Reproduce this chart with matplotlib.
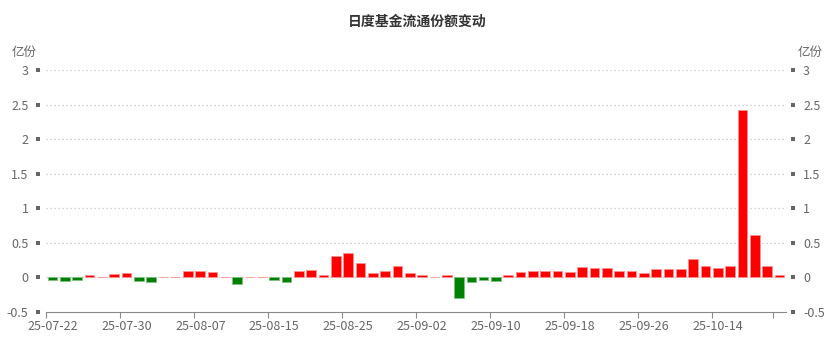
import matplotlib
matplotlib.use("Agg")
import matplotlib.pyplot as plt
import numpy as np

plt.rcParams['font.family'] = ['Noto Sans CJK SC', 'DejaVu Sans']

dates = ["25-07-22", "25-07-23", "25-07-24", "25-07-25", "25-07-28", "25-07-29",
         "25-07-30", "25-07-31", "25-08-01", "25-08-04", "25-08-05", "25-08-06",
         "25-08-07", "25-08-08", "25-08-11", "25-08-12", "25-08-13", "25-08-14",
         "25-08-15", "25-08-18", "25-08-19", "25-08-20", "25-08-21", "25-08-22",
         "25-08-25", "25-08-26", "25-08-27", "25-08-28", "25-08-29", "25-09-01",
         "25-09-02", "25-09-03", "25-09-04", "25-09-05", "25-09-08", "25-09-09",
         "25-09-10", "25-09-11", "25-09-12", "25-09-15", "25-09-16", "25-09-17",
         "25-09-18", "25-09-19", "25-09-22", "25-09-23", "25-09-24", "25-09-25",
         "25-09-26", "25-09-29", "25-09-30", "25-10-09", "25-10-10", "25-10-13",
         "25-10-14", "25-10-15", "25-10-16", "25-10-17", "25-10-20", "25-10-21"]

changes = [-0.04, -0.05, -0.04, 0.03, 0.005, 0.05, 0.07, -0.05, -0.07, 0.0,
           0.005, 0.09, 0.10, 0.08, 0.005, -0.09, 0.0, 0.0, -0.03, -0.07,
           0.09, 0.11, 0.03, 0.31, 0.35, 0.21, 0.07, 0.10, 0.16, 0.06,
           0.03, 0.0, 0.03, -0.30, -0.06, -0.03, -0.05, 0.03, 0.08, 0.09,
           0.10, 0.10, 0.08, 0.15, 0.14, 0.13, 0.10, 0.10, 0.07, 0.12,
           0.12, 0.12, 0.27, 0.17, 0.13, 0.16, 2.42, 0.61, 0.17, 0.04]

title = "日度基金流通份额变动"
unit = "亿份"
yticks = [-0.5, 0, 0.5, 1, 1.5, 2, 2.5, 3]
ytick_labels = ["-0.5", "0", "0.5", "1", "1.5", "2", "2.5", "3"]
label_step = 6

fig = plt.figure(figsize=(8.34, 3.5), dpi=100)
ax = fig.add_axes([46.3 / 834, 1 - 312 / 350, (785.5 - 46.3) / 834, (312 - 70) / 350])

x = np.arange(len(dates))
vals = np.array(changes)
colors = ['#ff0000' if v >= 0 else '#008000' for v in vals]
edges = ['#ff9090' if v >= 0 else '#80c080' for v in vals]
ax.bar(x, vals, width=0.78, color=colors, edgecolor=edges, linewidth=0.6, zorder=3)

ax.set_xlim(-0.5, len(dates) - 0.5)
ax.set_ylim(-0.5, 3)

# grid
for yv in yticks[1:]:
    ax.axhline(yv, color='#c8c8c8', linestyle=(0, (1, 2.2)), linewidth=0.9, zorder=1)

# x axis: ticks at category boundaries, labels at centers
lab_idx = list(range(0, len(dates), label_step))
tick_pos = [i - 0.5 for i in lab_idx] + [len(dates) - 1.5]
ax.set_xticks(tick_pos)
ax.set_xticklabels([''] * len(tick_pos))
ax.set_xticks(lab_idx, minor=True)
ax.set_xticklabels([dates[i] for i in lab_idx], minor=True)
ax.tick_params(axis='x', which='major', length=4, width=0.8, color='#8a8a8a', direction='out')
ax.tick_params(axis='x', which='minor', length=0, pad=6, labelsize=9, labelcolor='#666666')

# y axis both sides
ax.set_yticks(yticks)
ax.set_yticklabels(ytick_labels)
ax.tick_params(axis='y', left=True, right=True, labelleft=True, labelright=True,
               length=2.9, width=2.9, color='#666666', direction='out',
               pad=5.5, labelsize=9, labelcolor='#666666')

for s in ['top']:
    ax.spines[s].set_visible(False)
ax.spines['left'].set_position(('outward', 4.3))
ax.spines['right'].set_position(('outward', 4.3))
ax.spines['left'].set_visible(False)
ax.spines['right'].set_visible(False)
ax.spines['bottom'].set_color('#8a8a8a')
ax.spines['bottom'].set_linewidth(0.8)

fig.text(0.5, 1 - 22 / 350, title, ha='center', va='center', fontsize=10,
         fontweight='bold', color='#333333')
fig.text(24 / 834, 1 - 52 / 350, unit, ha='center', va='center', fontsize=9, color='#666666')
fig.text(810 / 834, 1 - 52 / 350, unit, ha='center', va='center', fontsize=9, color='#666666')

fig.savefig('out.png', dpi=100, facecolor='white')
